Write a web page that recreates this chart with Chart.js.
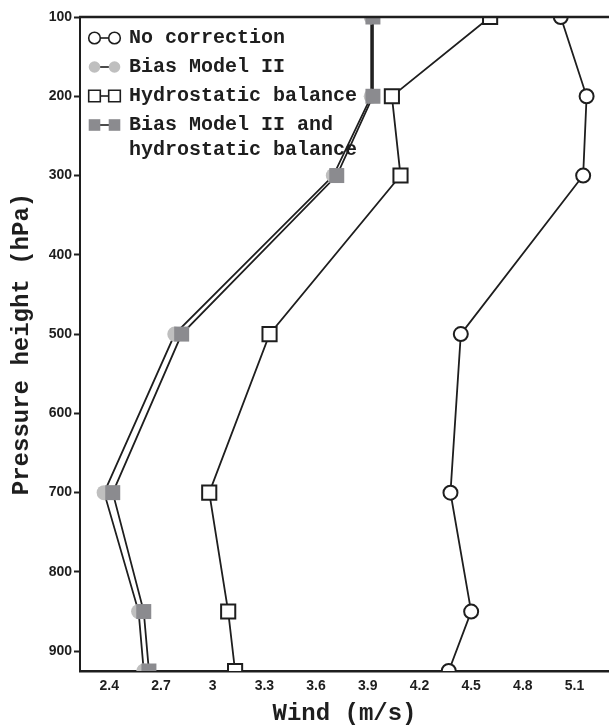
<!DOCTYPE html>
<html>
<head>
<meta charset="utf-8">
<script src="https://cdn.jsdelivr.net/npm/chart.js@4/dist/chart.umd.min.js"></script>
<style>
  html, body { margin: 0; padding: 0; background: #fff; }
  #wrap { width: 609px; height: 728px; position: relative; }
</style>
</head>
<body>
<div id="wrap"><canvas id="c"></canvas></div>
<script>
// Pressure levels (hPa) and wind error profiles (m/s)
const levels = [100, 200, 300, 500, 700, 850, 925];
const noCorrection = [5.02, 5.17, 5.15, 4.44, 4.38, 4.50, 4.37];
const biasModel2 = [3.92, 3.92, 3.70, 2.78, 2.37, 2.57, 2.60];
const hydrostatic = [4.61, 4.04, 4.09, 3.33, 2.98, 3.09, 3.13];
const biasModel2Hydro = [3.93, 3.93, 3.72, 2.82, 2.42, 2.60, 2.63];

const seriesNames = [
  ['No correction'],
  ['Bias Model II'],
  ['Hydrostatic balance'],
  ['Bias Model II and', 'hydrostatic balance']
];
const windTicks = [2.4, 2.7, 3.0, 3.3, 3.6, 3.9, 4.2, 4.5, 4.8, 5.1];
const pressureTicks = [100, 200, 300, 400, 500, 600, 700, 800, 900];

const INK = '#1e1e1e';
const LIGHT_GREY = '#bfbfbf';
const DARK_GREY = '#8b8b8f';
const MONO = '"Liberation Mono", "DejaVu Sans Mono", monospace';
const TICK_FONT = { family: '"Liberation Sans", Arial, sans-serif', size: 14, weight: 'bold' };

function profile(values) {
  return levels.map((p, i) => ({ x: values[i], y: p }));
}

const datasets = [
  {
    label: seriesNames[0].join(' '),
    data: profile(noCorrection),
    pointStyle: 'circle', pointRadius: 7, pointBorderWidth: 2,
    pointBackgroundColor: '#ffffff', pointBorderColor: INK,
    order: 2
  },
  {
    label: seriesNames[1].join(' '),
    data: profile(biasModel2),
    pointStyle: 'circle', pointRadius: 7.5, pointBorderWidth: 0,
    pointBackgroundColor: LIGHT_GREY, pointBorderColor: LIGHT_GREY,
    order: 1
  },
  {
    label: seriesNames[2].join(' '),
    data: profile(hydrostatic),
    pointStyle: 'rect', pointRadius: 10, pointBorderWidth: 2,
    pointBackgroundColor: '#ffffff', pointBorderColor: INK,
    order: 2
  },
  {
    label: seriesNames[3].join(' '),
    data: profile(biasModel2Hydro),
    pointStyle: 'rect', pointRadius: 10.6, pointBorderWidth: 0,
    pointBackgroundColor: DARK_GREY, pointBorderColor: DARK_GREY,
    order: 0
  }
].map(ds => Object.assign({
  borderColor: INK,
  borderWidth: 1.8,
  tension: 0,
  fill: false,
  clip: 0,
  pointHoverRadius: ds.pointRadius
}, ds));

// Frame line along the top of the plot
const topFrame = {
  id: 'topFrame',
  afterDatasetsDraw(chart) {
    const { ctx, chartArea } = chart;
    ctx.save();
    ctx.strokeStyle = INK;
    ctx.lineWidth = 2.5;
    ctx.beginPath();
    ctx.moveTo(chartArea.left - 1, chartArea.top);
    ctx.lineTo(chartArea.right, chartArea.top);
    ctx.stroke();
    ctx.restore();
  }
};

// Legend in the upper-left corner: marker-line-marker icon plus label lines
function drawIconMarker(ctx, ds, x, y) {
  const filledGrey = ds.pointBackgroundColor !== '#ffffff';
  ctx.fillStyle = ds.pointBackgroundColor;
  ctx.strokeStyle = INK;
  ctx.lineWidth = 1.6;
  ctx.beginPath();
  if (ds.pointStyle === 'circle') {
    ctx.arc(x, y, 5.8, 0, Math.PI * 2);
  } else {
    ctx.rect(x - 5.8, y - 5.8, 11.6, 11.6);
  }
  ctx.fill();
  if (!filledGrey) ctx.stroke();
}

const cornerLegend = {
  id: 'cornerLegend',
  afterDraw(chart) {
    const { ctx } = chart;
    const rowY = [38, 67, 96, 125];
    const lineGap = 25;
    ctx.save();
    chart.data.datasets.forEach((ds, i) => {
      const y = rowY[i];
      ctx.strokeStyle = INK;
      ctx.lineWidth = 1.6;
      ctx.beginPath();
      ctx.moveTo(98, y);
      ctx.lineTo(110, y);
      ctx.stroke();
      drawIconMarker(ctx, ds, 94.5, y);
      drawIconMarker(ctx, ds, 114.5, y);
      ctx.fillStyle = INK;
      ctx.font = 'bold 20px ' + MONO;
      ctx.textBaseline = 'middle';
      ctx.textAlign = 'left';
      seriesNames[i].forEach((line, k) => {
        ctx.fillText(line, 129, y + k * lineGap);
      });
    });
    ctx.restore();
  }
};

new Chart(document.getElementById('c'), {
  type: 'line',
  data: { datasets },
  plugins: [topFrame, cornerLegend],
  options: {
    responsive: true,
    maintainAspectRatio: false,
    animation: false,
    indexAxis: 'y',
    layout: { autoPadding: false, padding: { top: 17, right: 0, bottom: 0, left: 0 } },
    plugins: { legend: { display: false }, tooltip: { enabled: false } },
    scales: {
      x: {
        type: 'linear',
        position: 'bottom',
        min: 2.23,
        max: 5.30,
        afterBuildTicks(scale) { scale.ticks = windTicks.map(v => ({ value: v })); },
        afterFit(scale) { scale.height = 57; },
        grid: { drawOnChartArea: false, drawTicks: false },
        border: { display: true, color: INK, width: 2.5 },
        ticks: {
          padding: 7,
          color: INK,
          font: TICK_FONT,
          callback: v => String(Math.round(v * 10) / 10),
          maxRotation: 0,
          autoSkip: false
        },
        title: {
          display: true,
          text: 'Wind (m/s)',
          color: INK,
          font: { family: MONO, size: 24, weight: 'bold' },
          padding: { top: 0, bottom: 0 }
        }
      },
      y: {
        type: 'linear',
        position: 'left',
        reverse: true,
        min: 100,
        max: 925,
        afterBuildTicks(scale) { scale.ticks = pressureTicks.map(v => ({ value: v })); },
        afterFit(scale) { scale.width = 80; },
        grid: { drawOnChartArea: false, drawTicks: true, tickLength: 6, tickWidth: 2, tickColor: INK },
        border: { display: true, color: INK, width: 2 },
        ticks: {
          padding: 2,
          color: INK,
          font: TICK_FONT,
          autoSkip: false
        },
        title: {
          display: true,
          text: 'Pressure height (hPa)',
          color: INK,
          font: { family: MONO, size: 24, weight: 'bold' },
          padding: { top: 8, bottom: 0 }
        }
      }
    }
  }
});
</script>
</body>
</html>
